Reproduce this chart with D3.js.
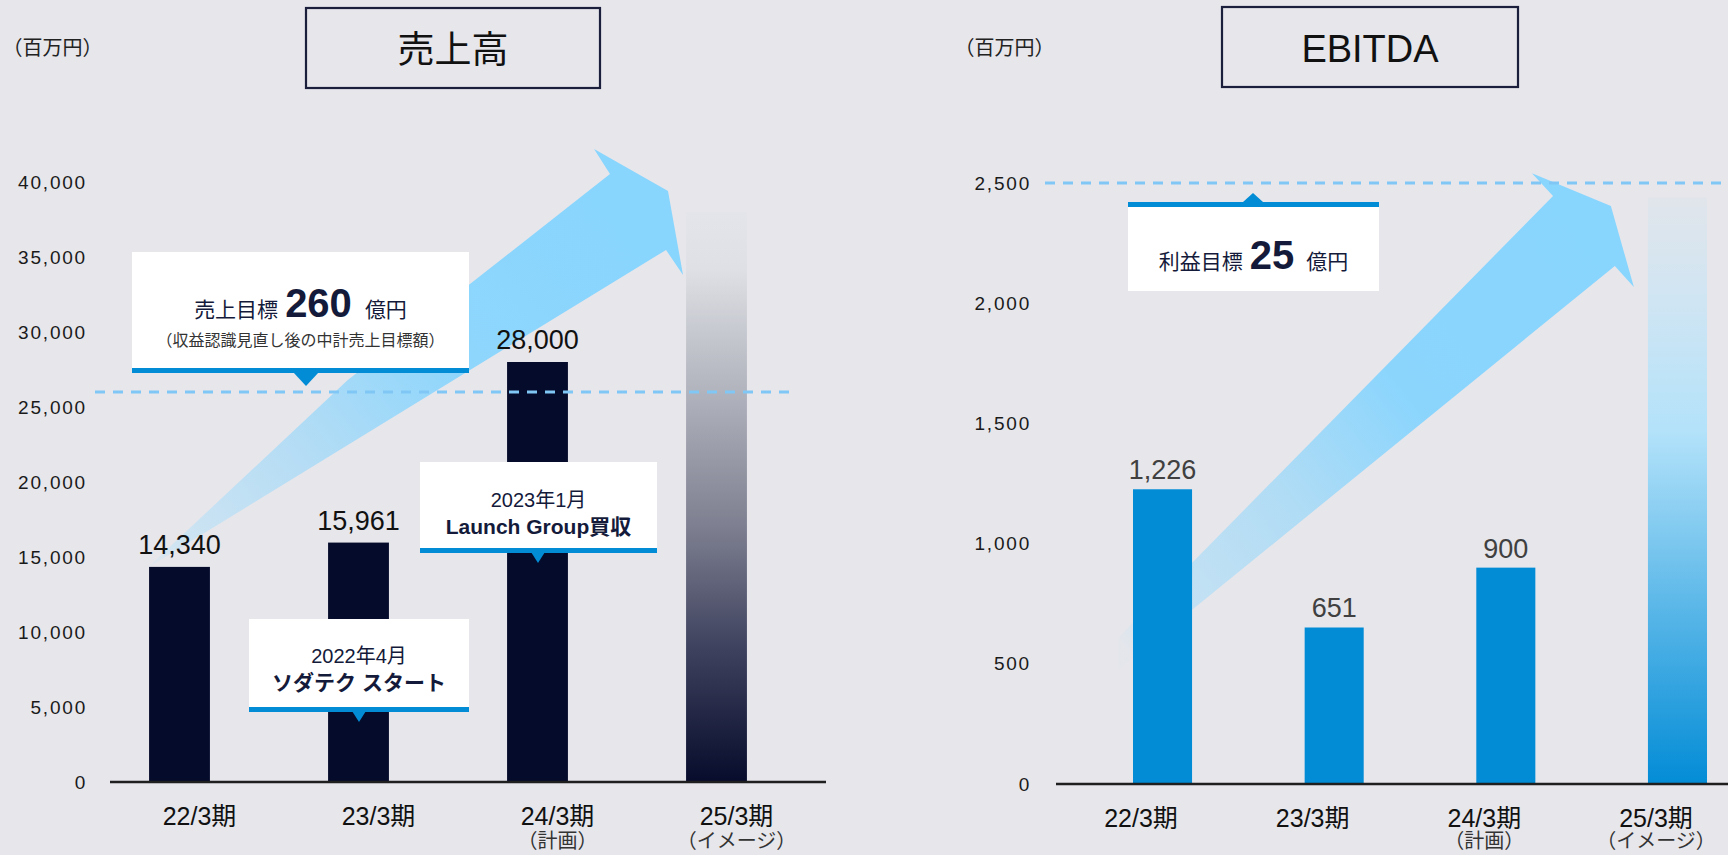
<!DOCTYPE html>
<html lang="ja">
<head>
<meta charset="utf-8">
<script src="https://cdn.jsdelivr.net/npm/d3@7"></script>
<style>
  html, body { margin: 0; padding: 0; background: #e6e6eb; }
  svg { display: block; font-family: "Liberation Sans", Arial, "Noto Sans CJK JP", sans-serif; }
</style>
</head>
<body>
<div id="chart"></div>
<script>
// ---- data ----
const categories    = ["22/3期", "23/3期", "24/3期", "25/3期"];
const categoryNotes = ["", "", "（計画）", "（イメージ）"];

const salesValues  = [14340, 15961, 28000];      // 22/3, 23/3 actual, 24/3 plan
const salesOutlook = 38000;                      // 25/3 image bar
const salesTarget  = 26000;                      // 260億円
const salesTicks   = [0, 5000, 10000, 15000, 20000, 25000, 30000, 35000, 40000];

const ebitdaValues  = [1226, 651, 900];
const ebitdaOutlook = 2440;
const ebitdaTarget  = 2500;                      // 25億円
const ebitdaTicks   = [0, 500, 1000, 1500, 2000, 2500];

// ---- canvas ----
const W = 1728, H = 855;
const NAVY = "#050b2b", BLUE = "#038cd6", TEXT = "#141a3a";
const fmt = d3.format(",");

const svg = d3.select("#chart").append("svg").attr("width", W).attr("height", H);
svg.append("rect").attr("width", W).attr("height", H).attr("fill", "#e6e6eb");
const defs = svg.append("defs");

function gradient(id, stops, coords) {
  const g = defs.append("linearGradient").attr("id", id);
  if (coords) {
    g.attr("gradientUnits", "userSpaceOnUse")
     .attr("x1", coords[0]).attr("y1", coords[1]).attr("x2", coords[2]).attr("y2", coords[3]);
  } else {
    g.attr("x1", 0).attr("y1", 0).attr("x2", 0).attr("y2", 1);
  }
  stops.forEach(([o, c, a]) => g.append("stop").attr("offset", o)
    .attr("stop-color", c).attr("stop-opacity", a == null ? 1 : a));
  return `url(#${id})`;
}

// ---- panels ----
const panels = [
  {
    id: "sales", title: "売上高", titleFont: "\"Noto Sans CJK JP\", sans-serif", titleSize: 37,
    titleBox: [306, 8, 294, 80], unitX: 52.5,
    values: salesValues, outlook: salesOutlook, target: salesTarget, ticks: salesTicks,
    x: d3.scaleBand().domain(categories).range([90, 806]).paddingInner(0.66).paddingOuter(0.33),
    y: d3.scaleLinear().domain([0, 40000]).range([782, 182]),
    axisX: [110, 826], tickX: 87, labelShift: 20, dashX: [95, 790],
    barColor: NAVY, valueColor: "#111", valueGap: 13,
    outlookStops: [[0, "#e4e5ea"], [0.1, "#dfe0e5"], [0.2, "#c9cbd2"], [0.31, "#b2b4be"],
                   [0.55, "#7e8091"], [0.76, "#40435f"], [1, "#070c2c"]],
    // arrow outline in chart space: [category position, value]
    arrow: [[-0.18, 14270], [0.94, 26800], [2.405, 40530], [2.316, 42200],
            [2.729, 39400], [2.813, 33800], [2.718, 35470]],
    arrowStops: [[0, "#d3e5f1", 0.1], [0.06, "#cfe4f2"], [0.35, "#b2dcf5"], [0.62, "#8fd6fc"], [1, "#88d5fe"]]
  },
  {
    id: "ebitda", title: "EBITDA", titleFont: "\"Liberation Sans\", Arial, sans-serif", titleSize: 38,
    titleBox: [1222, 7, 296, 80], unitX: 1004.5,
    values: ebitdaValues, outlook: ebitdaOutlook, target: ebitdaTarget, ticks: ebitdaTicks,
    x: d3.scaleBand().domain(categories).range([1076.7, 1763.3]).paddingInner(0.656).paddingOuter(0.328),
    y: d3.scaleLinear().domain([0, 2500]).range([784, 183]),
    axisX: [1056, 1728], tickX: 1031, labelShift: -21.5, dashX: [1045, 1728],
    barColor: BLUE, valueColor: "#404040", valueGap: 10,
    outlookStops: [[0, "#e1e5eb"], [0.18, "#cfe5f3"], [0.4, "#b3e2fa"], [0.7, "#5ab7e8"], [1, "#038cd6"]],
    arrow: [[-0.259, 607], [2.275, 2446], [2.152, 2541], [2.612, 2404],
            [2.746, 2067], [2.635, 2155], [-0.259, 474]],
    arrowStops: [[0, "#d6e5ef", 0.15], [0.07, "#c8e2f3"], [0.35, "#b0dcf5"], [0.6, "#8bd5fd"], [1, "#88d5fe"]]
  }
];

panels.forEach(p => {
  const g = svg.append("g").attr("class", p.id);
  const x = p.x, y = p.y;
  const pos = i => x(categories[0]) + x.bandwidth() / 2 + i * x.step();

  // title box
  const [bx, by, bw, bh] = p.titleBox;
  g.append("rect").attr("x", bx).attr("y", by).attr("width", bw).attr("height", bh)
    .attr("fill", "none").attr("stroke", "#1c1f3b").attr("stroke-width", 2.2);
  g.append("text").attr("x", bx + bw / 2).attr("y", by + 55)
    .attr("text-anchor", "middle").attr("font-size", p.titleSize)
    .attr("font-family", p.titleFont).attr("fill", "#111").text(p.title);

  // unit
  g.append("text").attr("x", p.unitX).attr("y", 55).attr("text-anchor", "middle")
    .attr("font-size", 20).attr("fill", "#222").text("（百万円）");

  // growth arrow
  const pts = p.arrow.map(([i, v]) => [pos(i), y(v)]);
  const tail = pts[0], head = pts[3];
  const fill = gradient(p.id + "-arrow", p.arrowStops, [tail[0], tail[1], head[0], head[1] + 40]);
  g.append("path").attr("d", d3.line()(pts) + "Z").attr("fill", fill);

  // bars
  g.selectAll("rect.bar").data(p.values).join("rect").attr("class", "bar")
    .attr("x", (d, i) => x(categories[i])).attr("width", x.bandwidth())
    .attr("y", d => y(d)).attr("height", d => y(0) - y(d)).attr("fill", p.barColor);

  // outlook bar
  const ofill = gradient(p.id + "-outlook", p.outlookStops);
  g.append("rect").attr("x", x(categories[3])).attr("width", x.bandwidth())
    .attr("y", y(p.outlook)).attr("height", y(0) - y(p.outlook)).attr("fill", ofill);

  // value labels
  g.selectAll("text.val").data(p.values).join("text").attr("class", "val")
    .attr("x", (d, i) => x(categories[i]) + x.bandwidth() / 2)
    .attr("y", d => y(d) - p.valueGap)
    .attr("text-anchor", "middle").attr("font-size", 27).attr("fill", p.valueColor)
    .text(d => fmt(d));

  // baseline
  g.append("line").attr("x1", p.axisX[0]).attr("x2", p.axisX[1])
    .attr("y1", y(0)).attr("y2", y(0)).attr("stroke", "#1f1f1f").attr("stroke-width", 2.6);

  // y axis labels
  const ya = g.append("g").attr("transform", `translate(${p.tickX},0)`)
    .call(d3.axisLeft(y).tickValues(p.ticks).tickSize(0).tickPadding(0).tickFormat(fmt));
  ya.select(".domain").remove();
  ya.selectAll("text").attr("font-size", 19).attr("letter-spacing", 1.8)
    .attr("fill", "#1a1a1a").attr("font-family", "\"Liberation Sans\", Arial, sans-serif");

  // x axis labels
  const xl = x.copy().range(x.range().map(r => r + p.labelShift));
  const xa = g.append("g").attr("transform", `translate(0,${y(0) + 43})`)
    .call(d3.axisBottom(xl).tickSize(0).tickPadding(0));
  xa.select(".domain").remove();
  xa.selectAll("text").attr("y", 0).attr("dy", 0).attr("font-size", 25).attr("fill", "#111")
    .attr("font-family", "\"Liberation Sans\", Arial, \"Noto Sans CJK JP\", sans-serif");
  g.selectAll("text.note").data(categoryNotes).join("text").attr("class", "note")
    .attr("x", (d, i) => xl(categories[i]) + xl.bandwidth() / 2)
    .attr("y", 848).attr("text-anchor", "middle")
    .attr("font-size", 20).attr("fill", "#333").text(d => d);

  // target line
  g.append("line").attr("x1", p.dashX[0]).attr("x2", p.dashX[1])
    .attr("y1", y(p.target)).attr("y2", y(p.target))
    .attr("stroke", "#80c7f6").attr("stroke-width", 3).attr("stroke-dasharray", "10 8");
});

// ---- callouts ----
function callout(o) {
  const g = svg.append("g");
  g.append("rect").attr("x", o.x).attr("y", o.y).attr("width", o.w).attr("height", o.h).attr("fill", "#fff");
  const barY = o.pointer === "up" ? o.y - 5 : o.y + o.h;
  g.append("rect").attr("x", o.x).attr("y", barY).attr("width", o.w).attr("height", 5).attr("fill", BLUE);
  const [ax, ay] = o.apex, hw = o.tw / 2;
  const baseY = o.pointer === "up" ? barY : barY + 4;
  g.append("path").attr("d", `M${ax - hw},${baseY}L${ax + hw},${baseY}L${ax},${ay}Z`).attr("fill", BLUE);
  const cx = o.x + o.w / 2;
  o.lines.forEach(line => {
    const t = g.append("text").attr("x", cx).attr("y", line.y).attr("text-anchor", "middle")
      .attr("fill", line.color || TEXT);
    line.parts.forEach(part => {
      t.append("tspan").attr("font-size", part.size).attr("font-weight", part.bold ? "bold" : null)
        .attr("dx", part.dx || 0).text(part.text);
    });
  });
}

callout({ x: 132, y: 252, w: 337, h: 116, pointer: "down", apex: [306, 386], tw: 26,
  lines: [
    { y: 317, parts: [{ text: "売上目標", size: 21 }, { text: "260", size: 40, bold: true, dx: 7 },
                      { text: "億円", size: 21, dx: 13 }] },
    { y: 346, color: "#333", parts: [{ text: "（収益認識見直し後の中計売上目標額）", size: 16 }] }
  ] });

callout({ x: 249, y: 619, w: 220, h: 88, pointer: "down", apex: [359, 722], tw: 14,
  lines: [
    { y: 663, parts: [{ text: "2022年4月", size: 20 }] },
    { y: 690, parts: [{ text: "ソダテク スタート", size: 21, bold: true }] }
  ] });

callout({ x: 420, y: 462, w: 237, h: 86, pointer: "down", apex: [538, 563], tw: 14,
  lines: [
    { y: 507, parts: [{ text: "2023年1月", size: 20 }] },
    { y: 534, parts: [{ text: "Launch Group買収", size: 21, bold: true }] }
  ] });

callout({ x: 1128, y: 207, w: 251, h: 84, pointer: "up", apex: [1253, 193], tw: 20,
  lines: [
    { y: 269, parts: [{ text: "利益目標", size: 21 }, { text: "25", size: 40, bold: true, dx: 7 },
                      { text: "億円", size: 21, dx: 12 }] }
  ] });
</script>
</body>
</html>
